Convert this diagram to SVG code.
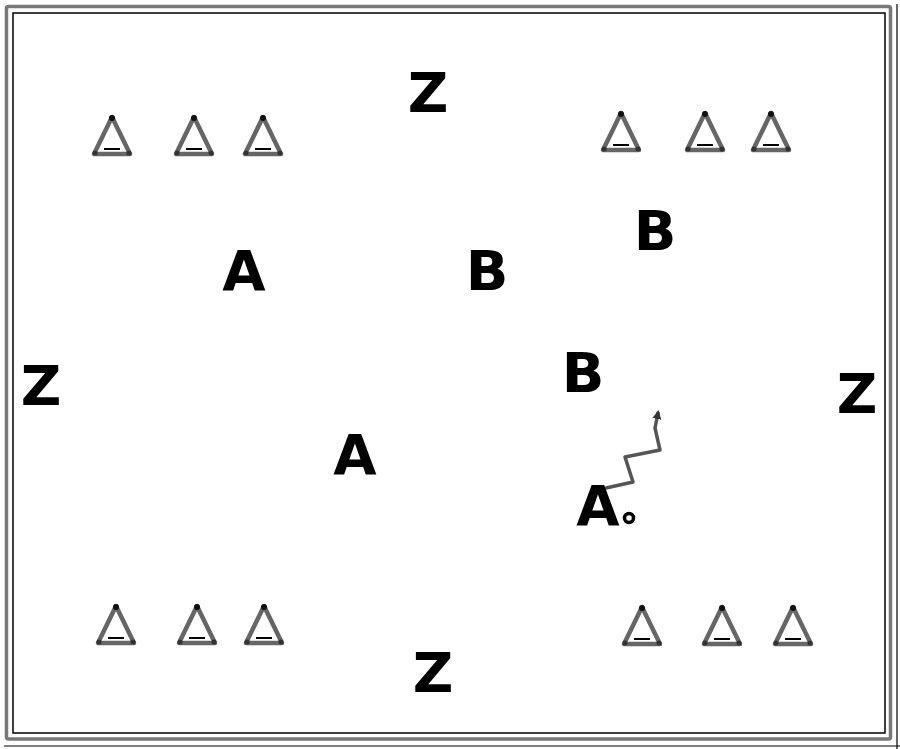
<svg xmlns="http://www.w3.org/2000/svg" xmlns:xlink="http://www.w3.org/1999/xlink" width="900" height="749" viewBox="0 0 900 749">
<style>
.lbl{font-family:"DejaVu Sans","Liberation Sans",sans-serif;font-weight:bold;font-size:56px;fill:#000;text-anchor:middle}
.cone{fill:none;stroke:#666;stroke-width:4.5;stroke-linejoin:round}
.conebase{stroke:#000;stroke-width:2}
.conn{fill:none;stroke:#555;stroke-width:3.5;stroke-linejoin:round;stroke-linecap:round}
</style>
<defs>
<g id="coneShape">
<path class="cone" d="M0,0 L-18,37 L18,37 Z"/>
<circle cx="0" cy="1" r="3" fill="#111"/>
<circle cx="-17" cy="36" r="2.5" fill="#333"/>
<circle cx="17" cy="36" r="2.5" fill="#333"/>
<line class="conebase" x1="-8" y1="32" x2="8" y2="32"/>
</g>
<marker id="arr" markerWidth="9" markerHeight="9" refX="6" refY="4.5" orient="auto" markerUnits="userSpaceOnUse">
<path d="M0,0 L9,4.5 L0,9 Z" fill="#333"/>
</marker>
</defs>
<rect width="900" height="749" fill="#fff"/>
<g id="border">
<rect x="6.5" y="6.5" width="884" height="732.5" fill="none" stroke="#777" stroke-width="3.5" rx="2"/>
<rect x="13" y="13" width="872" height="720" fill="none" stroke="#000" stroke-width="1.5"/>
<line x1="897" y1="4" x2="897" y2="749" stroke="#000" stroke-width="1.2"/>
<line x1="4" y1="746" x2="900" y2="746" stroke="#000" stroke-width="1.2"/>
</g>
<g id="cones-top-left">
<use xlink:href="#coneShape" x="112" y="117"/>
<use xlink:href="#coneShape" x="194" y="117"/>
<use xlink:href="#coneShape" x="263" y="117"/>
</g>
<g id="cones-top-right">
<use xlink:href="#coneShape" x="621" y="113"/>
<use xlink:href="#coneShape" x="705" y="113"/>
<use xlink:href="#coneShape" x="771" y="113"/>
</g>
<g id="cones-bottom-left">
<use xlink:href="#coneShape" x="116" y="606"/>
<use xlink:href="#coneShape" x="197" y="606"/>
<use xlink:href="#coneShape" x="264" y="606"/>
</g>
<g id="cones-bottom-right">
<use xlink:href="#coneShape" x="642" y="607"/>
<use xlink:href="#coneShape" x="722" y="607"/>
<use xlink:href="#coneShape" x="793" y="607"/>
</g>
<g id="connectors">
<path class="conn" d="M606,488 L633,482 L625,457 L660,450 L655,428 L658,413" marker-end="url(#arr)"/>
</g>
<g id="node-z-top"><text class="lbl" x="428" y="112">Z</text></g>
<g id="node-z-left"><text class="lbl" x="41" y="405">Z</text></g>
<g id="node-z-right"><text class="lbl" x="857" y="413">Z</text></g>
<g id="node-z-bottom"><text class="lbl" x="433" y="692">Z</text></g>
<g id="node-a1"><text class="lbl" x="244" y="290">A</text></g>
<g id="node-b1"><text class="lbl" x="487" y="290">B</text></g>
<g id="node-b2"><text class="lbl" x="655" y="250">B</text></g>
<g id="node-b3"><text class="lbl" x="583" y="392">B</text></g>
<g id="node-a2"><text class="lbl" x="355" y="474">A</text></g>
<g id="node-a3"><text class="lbl" x="598" y="525">A</text>
<circle cx="629" cy="518" r="4.5" fill="none" stroke="#000" stroke-width="3.5"/></g>
</svg>
